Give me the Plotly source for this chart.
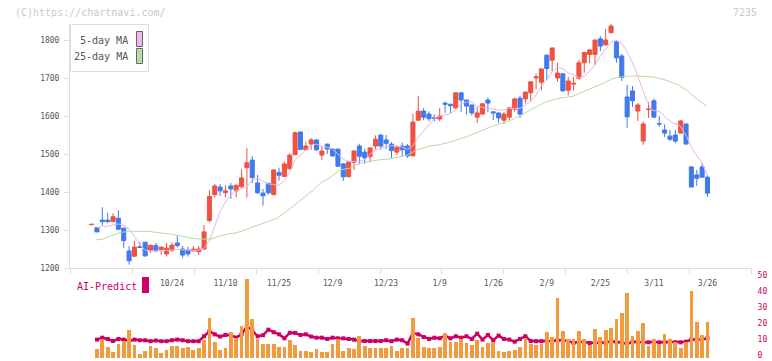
import plotly.graph_objects as go

# ---------------- data ----------------
day_index = list(range(116))

opens = [1314, 1306, 1326, 1326, 1322, 1331, 1305, 1245, 1231, 1256,
         1268, 1247, 1259, 1249, 1237, 1247, 1266, 1250, 1247, 1245,
         1243, 1250, 1325, 1393, 1413, 1398, 1416, 1403, 1414, 1464,
         1484, 1424, 1397, 1423, 1393, 1451, 1441, 1461, 1498, 1558,
         1511, 1526, 1537, 1497, 1526, 1513, 1513, 1474, 1440, 1478,
         1521, 1505, 1493, 1521, 1550, 1537, 1526, 1505, 1521, 1521,
         1495, 1589, 1613, 1605, 1595, 1592, 1634, 1631, 1621, 1661,
         1642, 1629, 1597, 1605, 1642, 1611, 1608, 1589, 1597, 1618,
         1647, 1645, 1661, 1700, 1689, 1760, 1747, 1700, 1711, 1668,
         1684, 1699, 1740, 1762, 1762, 1803, 1787, 1819, 1795, 1758,
         1650, 1666, 1613, 1534, 1617, 1640, 1580, 1563, 1547, 1550,
         1555, 1579, 1466, 1445, 1466, 1439]
highs = [1315, 1308, 1360, 1345, 1344, 1352, 1306, 1258, 1271, 1268,
         1268, 1261, 1266, 1256, 1266, 1267, 1284, 1258, 1256, 1258,
         1258, 1313, 1405, 1421, 1421, 1418, 1424, 1418, 1460, 1516,
         1495, 1445, 1408, 1424, 1459, 1464, 1480, 1502, 1559, 1558,
         1532, 1542, 1540, 1521, 1527, 1515, 1513, 1476, 1481, 1509,
         1527, 1514, 1517, 1549, 1551, 1550, 1531, 1519, 1530, 1526,
         1606, 1653, 1621, 1612, 1604, 1621, 1638, 1632, 1663, 1663,
         1643, 1630, 1624, 1634, 1649, 1612, 1609, 1611, 1624, 1648,
         1653, 1664, 1692, 1712, 1725, 1762, 1780, 1740, 1712, 1703,
         1703, 1747, 1768, 1775, 1801, 1810, 1829, 1842, 1800, 1763,
         1682, 1679, 1634, 1585, 1637, 1646, 1600, 1578, 1563, 1563,
         1590, 1580, 1468, 1458, 1476, 1445]
lows = [1314, 1294, 1312, 1318, 1322, 1300, 1253, 1209, 1229, 1253,
        1229, 1240, 1243, 1234, 1230, 1242, 1254, 1227, 1230, 1245,
        1234, 1248, 1319, 1385, 1389, 1386, 1382, 1386, 1408, 1385,
        1424, 1395, 1364, 1393, 1392, 1430, 1440, 1460, 1497, 1512,
        1510, 1511, 1508, 1484, 1500, 1493, 1466, 1429, 1440, 1458,
        1473, 1474, 1478, 1512, 1511, 1513, 1490, 1497, 1493, 1490,
        1495, 1588, 1589, 1586, 1586, 1586, 1609, 1608, 1620, 1611,
        1604, 1601, 1582, 1603, 1610, 1589, 1582, 1579, 1589, 1611,
        1595, 1633, 1638, 1670, 1668, 1695, 1718, 1690, 1664, 1654,
        1667, 1695, 1714, 1739, 1734, 1771, 1786, 1818, 1740, 1692,
        1569, 1624, 1587, 1524, 1595, 1595, 1572, 1545, 1534, 1529,
        1555, 1526, 1413, 1416, 1438, 1387]
closes = [1315, 1295, 1322, 1322, 1335, 1302, 1272, 1219, 1255, 1254,
          1232, 1260, 1245, 1255, 1252, 1260, 1259, 1234, 1237, 1250,
          1250, 1295, 1388, 1416, 1403, 1403, 1408, 1418, 1437, 1477,
          1438, 1398, 1390, 1398, 1458, 1444, 1474, 1497, 1556, 1512,
          1521, 1537, 1511, 1508, 1513, 1495, 1468, 1440, 1479, 1508,
          1494, 1490, 1516, 1539, 1521, 1528, 1509, 1518, 1511, 1495,
          1584, 1613, 1597, 1593, 1594, 1600, 1631, 1627, 1661, 1642,
          1626, 1608, 1608, 1632, 1634, 1608, 1595, 1605, 1621, 1645,
          1605, 1663, 1690, 1703, 1724, 1725, 1779, 1713, 1666, 1692,
          1686, 1740, 1767, 1774, 1800, 1784, 1800, 1837, 1753, 1701,
          1598, 1640, 1629, 1579, 1618, 1597, 1579, 1555, 1539, 1534,
          1587, 1526, 1413, 1436, 1439, 1397]

volume = [None, 5.4, 11.7, 6.7, 3.6, 8.6, 10.4, 17.3, 7.9, 2.3,
          4.2, 7.3, 6.0, 2.9, 4.8, 7.3, 7.3, 6.0, 6.7, 4.8,
          6.0, 11.1, 24.8, 9.8, 4.8, 6.0, 16.3, 12.3, 19.8, 49.2,
          24.2, 11.7, 8.6, 8.6, 8.6, 6.7, 6.7, 11.1, 7.9, 4.2,
          4.2, 3.6, 5.4, 3.6, 3.6, 8.6, 11.7, 4.2, 6.0, 5.4,
          13.5, 7.3, 6.0, 6.0, 6.0, 6.1, 7.3, 4.2, 6.1, 6.1,
          24.8, 12.3, 6.7, 6.1, 6.1, 6.7, 14.8, 9.8, 9.8, 11.7,
          9.2, 7.9, 11.1, 6.7, 9.2, 9.8, 4.2, 3.6, 4.2, 4.8,
          6.7, 12.3, 8.6, 7.9, 8.6, 16.1, 12.9, 37.3, 16.7, 11.7,
          11.7, 16.7, 11.7, 7.9, 17.9, 12.9, 17.3, 18.5, 24.2, 27.9,
          40.4, 13.5, 16.7, 21.7, 7.3, 11.7, 8.6, 14.8, 11.7, 9.8,
          6.1, 9.8, 41.6, 22.3, 14.2, 22.3]

ai_predict = [None, 11.5, 12.7, 11.9, 10.6, 11.9, 11.5, 10.6, 11.5, 11.1,
              11.1, 10.5, 10.9, 10.5, 10.5, 11.1, 11.5, 11.1, 10.5, 10.5,
              10.5, 13.6, 16.7, 14.8, 13.4, 14.4, 14.4, 12.7, 14.8, 19.8,
              17.3, 13.6, 14.2, 17.7, 16.1, 14.8, 12.3, 15.7, 15.7, 14.4,
              14.8, 13.4, 12.7, 12.7, 11.9, 12.7, 12.3, 12.3, 11.9, 11.5,
              10.6, 10.6, 10.6, 10.6, 10.6, 11.1, 10.5, 11.5, 11.1, 9.0,
              15.7, 14.8, 13.1, 11.9, 12.7, 12.3, 14.0, 12.3, 13.6, 12.7,
              13.6, 11.9, 15.2, 11.5, 14.4, 11.1, 14.0, 11.9, 11.5, 10.2,
              11.9, 13.6, 10.6, 10.5, 10.5, 10.5, 10.6, 11.1, 11.1, 10.6,
              9.4, 10.2, 9.8, 9.4, 9.4, 9.8, 9.4, 10.6, 9.8, 9.8,
              8.6, 10.2, 9.8, 9.8, 9.8, 10.2, 9.8, 9.8, 9.8, 9.8,
              9.8, 10.2, 11.5, 11.5, 11.5, 12.3]

ma5_x = list(range(1, 100)) + [99.6, 100.8, 101.8, 102.7, 103.6, 104.6, 106.1,
                               107.4, 108.6, 109.9, 111.1, 112, 112.7, 114, 115]
ma5_y = [1306, 1310, 1310, 1314, 1316, 1312, 1303, 1282, 1261, 1247,
         1245, 1245, 1245, 1246, 1247, 1249, 1248, 1247, 1247, 1247,
         1252, 1272, 1309, 1348, 1374, 1392, 1404, 1408, 1414, 1432,
         1436, 1428, 1421, 1420, 1418, 1430, 1452, 1484, 1497, 1511,
         1523, 1526, 1520, 1518, 1513, 1500, 1486, 1480, 1480, 1481,
         1485, 1499, 1510, 1515, 1520, 1522, 1522, 1518, 1512, 1522,
         1544, 1560, 1576, 1594, 1600, 1604, 1606, 1616, 1632, 1637,
         1637, 1626, 1622, 1620, 1618, 1616, 1616, 1620, 1620, 1620,
         1628, 1640, 1655, 1680, 1695, 1717, 1728, 1724, 1713, 1709,
         1700, 1705, 1718, 1734, 1758, 1778, 1795, 1799, 1790,
         1778, 1747, 1712, 1677, 1642, 1616, 1611, 1594, 1581, 1574,
         1546, 1519, 1502, 1476, 1442]

ma25_x = [0.8, 2.2, 3.5, 5.5, 7.6, 9.4, 10.9, 13, 15, 17.1, 18.8, 20.3, 22.3,
          23.4, 25.3, 27.2, 29, 30.9, 32.8, 34.6, 36.5, 38.9, 41.4, 42.7,
          44.5, 46.4, 48.3, 50.1, 53.9, 55.7, 57.6, 58.9, 60.8, 63.2, 65.1,
          66.9, 70.1, 72.5, 75, 77.6, 80, 82.4, 85, 87.5, 89.9, 92.5, 94.9,
          97.4, 100, 102.4, 104.8, 107.1, 109.5, 111.2, 113, 114.9]
ma25_y = [1274, 1276, 1284, 1294, 1297, 1297, 1296, 1292, 1289, 1283, 1278,
          1276, 1276, 1282, 1289, 1293, 1302, 1311, 1320, 1331, 1350, 1376,
          1405, 1423, 1438, 1458, 1463, 1476, 1485, 1487, 1493, 1497, 1511,
          1521, 1525, 1531, 1546, 1559, 1574, 1585, 1600, 1620, 1638, 1647,
          1652, 1668, 1682, 1699, 1705, 1705, 1703, 1695, 1682, 1667, 1645,
          1625]

tick_index = [15, 25, 35, 45, 55, 65, 75, 85, 95, 105, 115]
tick_labels = ["10/24", "11/10", "11/25", "12/9", "12/23", "1/9", "1/26",
               "2/9", "2/25", "3/11", "3/26"]
price_ticks = [1200, 1300, 1400, 1500, 1600, 1700, 1800]
ai_ticks = [0, 10, 20, 30, 40, 50]

# ---------------- geometry / style ----------------
W, H = 772, 361
PL, PR, PT, PB = 70, 752, 24, 358      # plot area in window pixels
L, R, T, B = PL, W - PR, PT, H - PB
PW, PH = PR - PL, PB - PT
X0PX, DPX = 91.5, 5.357               # pixel of first candle, pixel per day


def xpx(v):
    return (v - X0PX) / DPX


def px(x):
    return (x - PL) / PW


def py(y):
    return (PB - y) / PH


xr = [xpx(PL) - 0.02, xpx(PR) + 0.02]
minor_ticks = [xpx(PL + k * PW / 11) for k in range(12)]

RED, BLUE = "#EF5240", "#4179EE"
MONO = "DejaVu Sans Mono"

fig = go.Figure()

fig.add_trace(go.Bar(
    x=day_index, y=volume, xaxis="x", yaxis="y3", width=0.7,
    marker=dict(color="#F29A3E", line=dict(width=0)), hoverinfo="skip"))
fig.add_trace(go.Scatter(
    x=day_index, y=ai_predict, xaxis="x", yaxis="y2", mode="lines+markers",
    line=dict(color="#CC0066", width=2.5),
    marker=dict(symbol="square", size=4, color="#CC0066"), hoverinfo="skip"))

fig.add_trace(go.Scatter(
    x=ma25_x, y=ma25_y, mode="lines", line=dict(color="#B4DCA4", width=1),
    xaxis="x", yaxis="y", hoverinfo="skip"))
fig.add_trace(go.Scatter(
    x=ma5_x, y=ma5_y, mode="lines", line=dict(color="#E8B4EC", width=1),
    xaxis="x", yaxis="y", hoverinfo="skip"))

fig.add_trace(go.Candlestick(
    x=day_index, open=opens, high=highs, low=lows, close=closes,
    xaxis="x", yaxis="y", whiskerwidth=0,
    increasing=dict(line=dict(color=RED, width=1), fillcolor=RED),
    decreasing=dict(line=dict(color=BLUE, width=1), fillcolor=BLUE),
    hoverinfo="skip"))

axis_font = dict(family=MONO, size=8, color="#555555")

shapes = [
    dict(type="rect", xref="paper", yref="paper", x0=px(70.5), x1=px(148.5),
         y0=py(71.5), y1=py(24.5), line=dict(color="#dddddd", width=1),
         fillcolor="white", layer="above"),
    dict(type="rect", xref="paper", yref="paper", x0=px(136.5), x1=px(142.5),
         y0=py(46.5), y1=py(31.5), line=dict(color="#666666", width=1),
         fillcolor="#F0B8EC", layer="above"),
    dict(type="rect", xref="paper", yref="paper", x0=px(136.5), x1=px(142.5),
         y0=py(63.5), y1=py(48.5), line=dict(color="#666666", width=1),
         fillcolor="#B8DCA8", layer="above"),
    dict(type="rect", xref="paper", yref="paper", x0=px(142), x1=px(149),
         y0=py(293), y1=py(277), line=dict(width=0), fillcolor="#CC0066",
         layer="above"),
]

annotations = [
    dict(text="5-day MA", xref="paper", yref="paper", x=px(130), y=py(40),
         xanchor="right", yanchor="middle", showarrow=False,
         font=dict(family=MONO, size=10, color="#555555")),
    dict(text="25-day MA", xref="paper", yref="paper", x=px(130), y=py(57),
         xanchor="right", yanchor="middle", showarrow=False,
         font=dict(family=MONO, size=10, color="#555555")),
    dict(text="AI-Predict", xref="paper", yref="paper", x=px(75), y=py(286),
         xanchor="left", yanchor="middle", showarrow=False,
         font=dict(family=MONO, size=10, color="#CC0066")),
    dict(text="(C)https://chartnavi.com/", xref="paper", yref="paper",
         x=px(13), y=py(12.5), xanchor="left", yanchor="middle",
         showarrow=False, font=dict(family=MONO, size=10, color="#C8C8C8")),
    dict(text="7235", xref="paper", yref="paper", x=px(759), y=py(12.5),
         xanchor="right", yanchor="middle", showarrow=False,
         font=dict(family=MONO, size=10, color="#C8C8C8")),
]

fig.update_layout(
    width=W, height=H, margin=dict(l=L, r=R, t=T, b=B, pad=0,
                                   autoexpand=False),
    paper_bgcolor="white", plot_bgcolor="white", showlegend=False,
    boxgap=0.13, boxgroupgap=0.13, bargap=0,
    xaxis=dict(
        range=xr, anchor="y", tickmode="array", tickvals=tick_index,
        ticktext=tick_labels, ticks="outside", ticklen=7,
        tickcolor="rgba(0,0,0,0)", showline=True, linecolor="#dddddd",
        linewidth=1, showgrid=False, zeroline=False, tickfont=axis_font,
        rangeslider=dict(visible=False), fixedrange=True, automargin=False,
        minor=dict(tickmode="array", tickvals=minor_ticks, ticks="outside",
                   ticklen=5, tickcolor="#dddddd", tickwidth=1,
                   showgrid=False)),
    yaxis=dict(
        domain=[py(268), 1], range=[1200, 1200 + (268 - PT) / 0.38],
        tickvals=price_ticks, ticks="outside", ticklen=5, tickcolor="#dddddd",
        showline=True, linecolor="#dddddd", linewidth=1, showgrid=False,
        zeroline=False, tickfont=axis_font, ticklabelstandoff=3,
        automargin=False, fixedrange=True),
    yaxis2=dict(
        domain=[0, py(278)], range=[0, 50], anchor="x", side="right",
        tickvals=ai_ticks, ticks="outside", ticklen=3,
        tickcolor="rgba(0,0,0,0)", showline=False, showgrid=False,
        zeroline=False, automargin=False, ticklabeloverflow="allow",
        ticklabelshift=-3, fixedrange=True,
        tickfont=dict(family=MONO, size=8, color="#CC0066")),
    yaxis3=dict(overlaying="y2", anchor="x", range=[0, 50], visible=False,
                automargin=False, fixedrange=True),
    shapes=shapes, annotations=annotations,
)

# remove the browser's default 8px page margin so the figure fills the window
fig.write_html(
    "out.html",
    config={"displayModeBar": False, "staticPlot": True},
    post_script="document.body.style.margin='0';"
                "document.body.style.overflow='hidden';")
